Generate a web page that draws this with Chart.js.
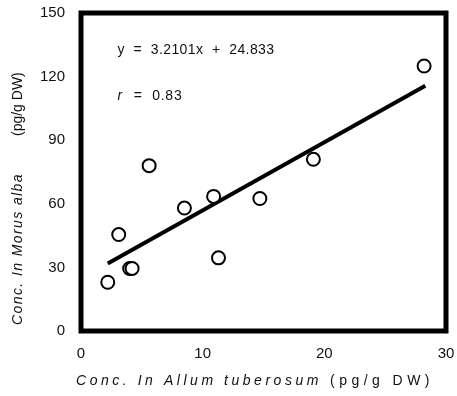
<!DOCTYPE html>
<html>
<head>
<meta charset="utf-8">
<script src="https://cdn.jsdelivr.net/npm/chart.js@4.4.0/dist/chart.umd.min.js"></script>
<style>
  html, body { margin: 0; padding: 0; background: #fff; }
  #wrap { width: 457px; height: 396px; }
</style>
</head>
<body>
<div id="wrap"><canvas id="chart"></canvas></div>
<script>
// measured points
const xValues = [2.2, 3.1, 4.0, 4.2, 5.6, 8.5, 10.9, 11.3, 14.7, 19.1, 28.2];
const yValues = [23, 45.5, 29.5, 29.5, 78, 58, 63.5, 34.5, 62.5, 81, 125];

// fitted line y = 3.2101x + 24.833
const slope = 3.2101;
const intercept = 24.833;
const fitRange = [2.2, 28.3];

const xTicks = [0, 10, 20, 30];
const yTicks = [0, 30, 60, 90, 120, 150];

const equationText = 'y  =  3.2101x  +  24.833';
const rText = 'r  =  0.83';

const FONT = '"Liberation Sans", Arial, sans-serif';

// draw text stretched (letter spacing) to a given width
function drawSpaced(ctx, text, font, x, y, width) {
    ctx.font = font;
    ctx.letterSpacing = '0px';
    const w = ctx.measureText(text).width;
    const sp = Math.max(0, (width - w) / text.length);
    ctx.letterSpacing = sp + 'px';
    ctx.fillText(text, x, y);
}

const framePlugin = {
    id: 'frame',
    afterDraw(chart) {
        const { ctx, chartArea: a, scales } = chart;
        ctx.save();
        // box around plot
        ctx.strokeStyle = '#000';
        ctx.lineWidth = 5;
        ctx.strokeRect(a.left, a.top, a.right - a.left, a.bottom - a.top);

        ctx.fillStyle = '#111';
        ctx.textBaseline = 'middle';
        ctx.textAlign = 'left';
        const ex = scales.x.getPixelForValue(3);
        drawSpaced(ctx, equationText, '14px ' + FONT, ex, scales.y.getPixelForValue(132.5), 157);
        drawSpaced(ctx, 'r', 'italic 14px ' + FONT, ex, scales.y.getPixelForValue(111), 7);
        drawSpaced(ctx, rText.slice(1), '14px ' + FONT, ex + 7, scales.y.getPixelForValue(111), 58);

        // x axis title
        drawSpaced(ctx, 'Conc. In Allum tuberosum', 'italic 14px ' + FONT, 76, 381, 246);
        drawSpaced(ctx, '(pg/g DW)', '14px ' + FONT, 330, 381, 104);

        // y axis title, rotated
        ctx.translate(18, 0);
        ctx.rotate(-Math.PI / 2);
        drawSpaced(ctx, 'Conc. In Morus alba', 'italic 14px ' + FONT, -325, 0, 152);
        drawSpaced(ctx, '(pg/g DW)', '14px ' + FONT, -136, 0, 62);
        ctx.restore();
    }
};

new Chart(document.getElementById('chart'), {
    type: 'scatter',
    data: {
        datasets: [
            {
                label: 'Samples',
                data: xValues.map((x, i) => ({ x: x, y: yValues[i] })),
                pointRadius: 6.5,
                pointBorderWidth: 2,
                pointBackgroundColor: '#fff',
                pointBorderColor: '#000',
                showLine: false
            },
            {
                label: 'Fit',
                data: fitRange.map(x => ({ x: x, y: slope * x + intercept })),
                showLine: true,
                borderColor: '#000',
                borderWidth: 4,
                pointRadius: 0,
                fill: false
            }
        ]
    },
    options: {
        responsive: true,
        maintainAspectRatio: false,
        animation: false,
        layout: { padding: { left: 0, right: 11, top: 13, bottom: 0 } },
        plugins: {
            legend: { display: false },
            tooltip: { enabled: false }
        },
        scales: {
            x: {
                type: 'linear',
                min: 0,
                max: 30,
                afterBuildTicks: s => { s.ticks = xTicks.map(v => ({ value: v })); },
                afterFit: s => { s.height = 65; s.paddingLeft = 0; s.paddingRight = 0; },
                grid: { display: false, drawTicks: false },
                border: { display: false },
                ticks: {
                    color: '#111',
                    padding: 14,
                    font: { family: FONT, size: 15 }
                }
            },
            y: {
                type: 'linear',
                min: 0,
                max: 150,
                afterBuildTicks: s => { s.ticks = yTicks.map(v => ({ value: v })); },
                afterFit: s => { s.width = 81; s.paddingTop = 0; s.paddingBottom = 0; },
                grid: { display: false, drawTicks: false },
                border: { display: false },
                ticks: {
                    color: '#111',
                    padding: 16,
                    font: { family: FONT, size: 15 }
                }
            }
        }
    },
    plugins: [framePlugin]
});
</script>
</body>
</html>
